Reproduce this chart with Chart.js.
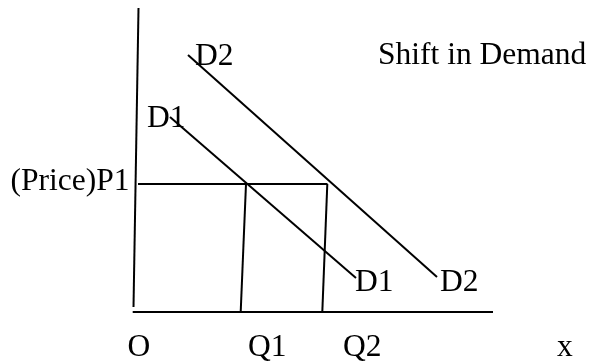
<!DOCTYPE html>
<html>
<head>
<meta charset="utf-8">
<script src="https://cdn.jsdelivr.net/npm/chart.js"></script>
<style>
  html, body { margin: 0; padding: 0; background: #fff; }
  #chart { display: block; }
</style>
</head>
<body>
<canvas id="chart" width="590" height="362"></canvas>
<script>
// Diagram values in chart units (quantity on x, price on y)
const priceAxis = [{ x: 0.05, y: 0.5 }, { x: 0.55, y: 30.4 }];
const quantityAxis = [{ x: -0.03, y: 0 }, { x: 36.0, y: 0 }];
const demand1 = [{ x: 3.7, y: 19.5 }, { x: 22.3, y: 3.4 }];
const demand2 = [{ x: 5.5, y: 25.7 }, { x: 30.4, y: 3.5 }];
const priceLine = [{ x: 0.5, y: 12.8 }, { x: 19.45, y: 12.8 }];
const q1Line = [{ x: 11.3, y: 12.8 }, { x: 10.77, y: 0 }];
const q2Line = [{ x: 19.43, y: 12.8 }, { x: 18.93, y: 0 }];

// Text labels and where they sit (left edge, baseline) in chart units
const labelTexts = ['D2', 'D1', '(Price)P1', 'Shift in Demand', 'D1', 'D2', 'O', 'Q1', 'Q2', 'x'];
const labelX = [6.2, 1.4, -12.25, 24.5, 22.2, 30.7, -0.55, 11.5, 21.0, 42.4];
const labelY = [24.7, 18.5, 12.2, 24.8, 2.1, 2.1, -4.35, -4.35, -4.35, -4.35];

const lineSet = (data) => ({
  data: data,
  showLine: true,
  borderColor: '#000',
  borderWidth: 2,
  pointRadius: 0,
  fill: false
});

// draws the text labels through the chart scales
const labelPlugin = {
  id: 'labels',
  afterDatasetsDraw(chart) {
    const ctx = chart.ctx;
    const xs = chart.scales.x;
    const ys = chart.scales.y;
    ctx.save();
    ctx.font = '31.5px "Liberation Serif", "Times New Roman", serif';
    ctx.fillStyle = '#000';
    ctx.textAlign = 'left';
    ctx.textBaseline = 'alphabetic';
    labelTexts.forEach((t, i) => {
      ctx.fillText(t, xs.getPixelForValue(labelX[i]), ys.getPixelForValue(labelY[i]));
    });
    ctx.restore();
  }
};

new Chart(document.getElementById('chart'), {
  type: 'scatter',
  data: {
    datasets: [
      lineSet(priceAxis),
      lineSet(quantityAxis),
      lineSet(demand1),
      lineSet(demand2),
      lineSet(priceLine),
      lineSet(q1Line),
      lineSet(q2Line)
    ]
  },
  options: {
    responsive: false,
    devicePixelRatio: 1,
    animation: false,
    layout: { padding: 0 },
    scales: {
      x: { type: 'linear', min: -13.3, max: 45.7, display: false },
      y: { type: 'linear', min: -5.0, max: 31.2, display: false }
    },
    plugins: {
      legend: { display: false },
      tooltip: { enabled: false }
    }
  },
  plugins: [labelPlugin]
});
</script>
</body>
</html>
